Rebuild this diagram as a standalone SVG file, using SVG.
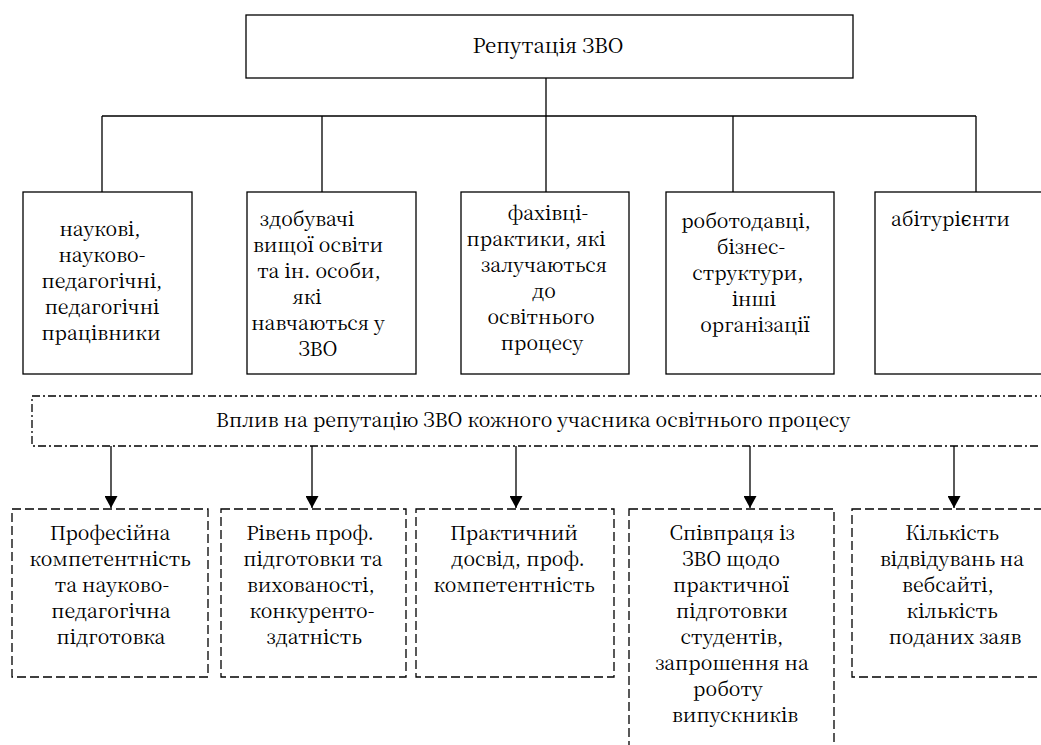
<svg xmlns="http://www.w3.org/2000/svg" width="1041" height="745" viewBox="0 0 1041 745">
<defs>
<style>
.box{fill:#fff;stroke:#000;stroke-width:1.3}
.dbox{fill:#fff;stroke:#000;stroke-width:1.3;stroke-dasharray:9 4}
.band{fill:#fff;stroke:#000;stroke-width:1.3;stroke-dasharray:8 3 2 3}
.ln{fill:none;stroke:#000;stroke-width:1.3}
text{font-family:"Noto Serif CJK SC","DejaVu Serif",serif;font-size:19.5px;fill:#000}
.c{text-anchor:middle}
</style>
<marker id="arr" markerWidth="13" markerHeight="13" refX="12" refY="6.5" orient="auto" markerUnits="userSpaceOnUse">
<path d="M0,0 L12,6.5 L0,13 Z" fill="#000"/>
</marker>
</defs>
<rect width="1041" height="745" fill="#fff"/>

<g id="connectors">
<path class="ln" d="M546,78 V116 M102,116 H976 M102,116 V192 M322,116 V192 M546,116 V192 M733,116 V192 M976,116 V192"/>
<path class="ln" d="M111,446 V508" marker-end="url(#arr)"/>
<path class="ln" d="M312,446 V508" marker-end="url(#arr)"/>
<path class="ln" d="M516,446 V508" marker-end="url(#arr)"/>
<path class="ln" d="M750,446 V508" marker-end="url(#arr)"/>
<path class="ln" d="M954,446 V508" marker-end="url(#arr)"/>
</g>

<g id="top">
<rect class="box" x="246" y="15" width="607" height="63"/>
<text class="c" x="548" y="53" style="font-size:20.5px">Репутація ЗВО</text>
</g>

<g id="n1">
<rect class="box" x="23" y="192" width="169" height="182"/>
<text class="c"><tspan x="100" y="236">наукові,</tspan><tspan x="102" y="262">науково-</tspan><tspan x="102" y="288">педагогічні,</tspan><tspan x="102" y="314">педагогічні</tspan><tspan x="101" y="340">працівники</tspan></text>
</g>
<g id="n2">
<rect class="box" x="247" y="192" width="169" height="182"/>
<text class="c"><tspan x="307" y="226">здобувачі</tspan><tspan x="318" y="252">вищої освіти</tspan><tspan x="319" y="278">та ін. особи,</tspan><tspan x="307" y="304">які</tspan><tspan x="318" y="330">навчаються у</tspan><tspan x="318" y="356">ЗВО</tspan></text>
</g>
<g id="n3">
<rect class="box" x="461" y="192" width="168" height="182"/>
<text class="c"><tspan x="548" y="220">фахівці-</tspan><tspan x="536" y="246">практики, які</tspan><tspan x="544" y="272">залучаються</tspan><tspan x="544" y="298">до</tspan><tspan x="541" y="324">освітнього</tspan><tspan x="542" y="350">процесу</tspan></text>
</g>
<g id="n4">
<rect class="box" x="666" y="192" width="168" height="182"/>
<text class="c"><tspan x="746" y="228">роботодавці,</tspan><tspan x="751" y="254">бізнес-</tspan><tspan x="748" y="280">структури,</tspan><tspan x="754" y="306">інші</tspan><tspan x="755" y="332">організації</tspan></text>
</g>
<g id="n5">
<rect class="box" x="875" y="192" width="185" height="182"/>
<text x="891" y="226">абітурієнти</text>
</g>

<g id="influence">
<rect class="band" x="32" y="396" width="1030" height="50"/>
<text class="c" x="533" y="427">Вплив на репутацію ЗВО кожного учасника освітнього процесу</text>
</g>

<g id="b1">
<rect class="dbox" x="12" y="509" width="196" height="168"/>
<text class="c"><tspan x="110" y="540">Професійна</tspan><tspan x="110" y="566">компетентність</tspan><tspan x="112" y="592">та науково-</tspan><tspan x="111" y="618">педагогічна</tspan><tspan x="111" y="644">підготовка</tspan></text>
</g>
<g id="b2">
<rect class="dbox" x="221" y="509" width="185" height="168"/>
<text class="c"><tspan x="310" y="540">Рівень проф.</tspan><tspan x="313" y="566">підготовки та</tspan><tspan x="311" y="592">вихованості,</tspan><tspan x="312" y="618">конкуренто-</tspan><tspan x="314" y="644">здатність</tspan></text>
</g>
<g id="b3">
<rect class="dbox" x="416" y="509" width="198" height="168"/>
<text class="c"><tspan x="514" y="540">Практичний</tspan><tspan x="518" y="566">досвід, проф.</tspan><tspan x="514" y="592">компетентність</tspan></text>
</g>
<g id="b4">
<rect class="dbox" x="629" y="509" width="205" height="260"/>
<text class="c"><tspan x="732" y="540">Співпраця із</tspan><tspan x="731" y="566">ЗВО щодо</tspan><tspan x="731" y="592">практичної</tspan><tspan x="732" y="618">підготовки</tspan><tspan x="732" y="644">студентів,</tspan><tspan x="732" y="670">запрошення на</tspan><tspan x="728" y="696">роботу</tspan><tspan x="735" y="722">випускників</tspan></text>
</g>
<g id="b5">
<rect class="dbox" x="852" y="509" width="210" height="168"/>
<text class="c"><tspan x="952" y="540">Кількість</tspan><tspan x="952" y="566">відвідувань на</tspan><tspan x="948" y="592">вебсайті,</tspan><tspan x="952" y="618">кількість</tspan><tspan x="955" y="644">поданих заяв</tspan></text>
</g>
</svg>
